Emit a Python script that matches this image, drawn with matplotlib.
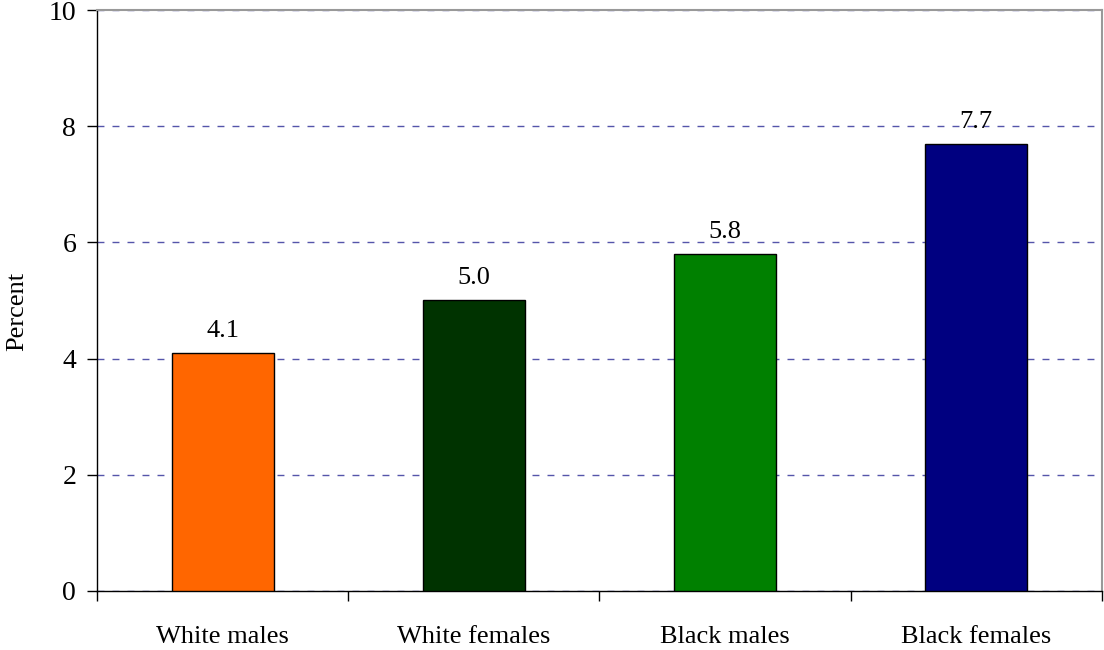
import matplotlib
matplotlib.use("Agg")
import matplotlib.pyplot as plt
import numpy as np

categories = ["White males", "White females", "Black males", "Black females"]
values = [4.1, 5.0, 5.8, 7.7]
colors = ["#FF6600", "#003300", "#008000", "#000080"]

plt.rcParams["font.family"] = ["Liberation Serif", "DejaVu Serif"]

fig = plt.figure(figsize=(11.04, 6.5), dpi=100)
ax = fig.add_axes([0.0879, 0.0908, 0.9101, 0.8938])

x = np.arange(len(categories))
ax.bar(x, values, width=0.406, color=colors, edgecolor="black",
       linewidth=1, zorder=3)
for xi, v in zip(x, values):
    ax.annotate(f"{v:.1f}", (xi, v), textcoords="offset points",
                xytext=(0, 8), ha="center", va="bottom", fontsize=19, zorder=4)

ax.set_xlim(-0.5, len(categories) - 0.5)
ax.set_ylim(0, 10)
ax.set_yticks([0, 2, 4, 6, 8, 10])
ax.tick_params(axis="y", labelsize=20, length=7, width=1, pad=8,
               direction="out")
ax.yaxis.grid(True, linestyle=(0, (5, 5.8)), color="#5555aa", linewidth=1,
              zorder=0)

ax.set_xticks(x)
ax.set_xticklabels(categories, fontsize=19)
ax.tick_params(axis="x", which="major", length=0, pad=25)
ax.set_xticks(np.arange(-0.5, len(categories)), minor=True)
ax.tick_params(axis="x", which="minor", length=7, width=1, direction="out")

ax.set_ylabel("Percent", fontsize=19, labelpad=15)
ax.yaxis.label.set_y(0.482)

for side in ("top", "right"):
    ax.spines[side].set_color("#999999")
    ax.spines[side].set_linewidth(1.5)
for side in ("left", "bottom"):
    ax.spines[side].set_color("black")
    ax.spines[side].set_linewidth(1)

fig.savefig("out.png", dpi=100)
